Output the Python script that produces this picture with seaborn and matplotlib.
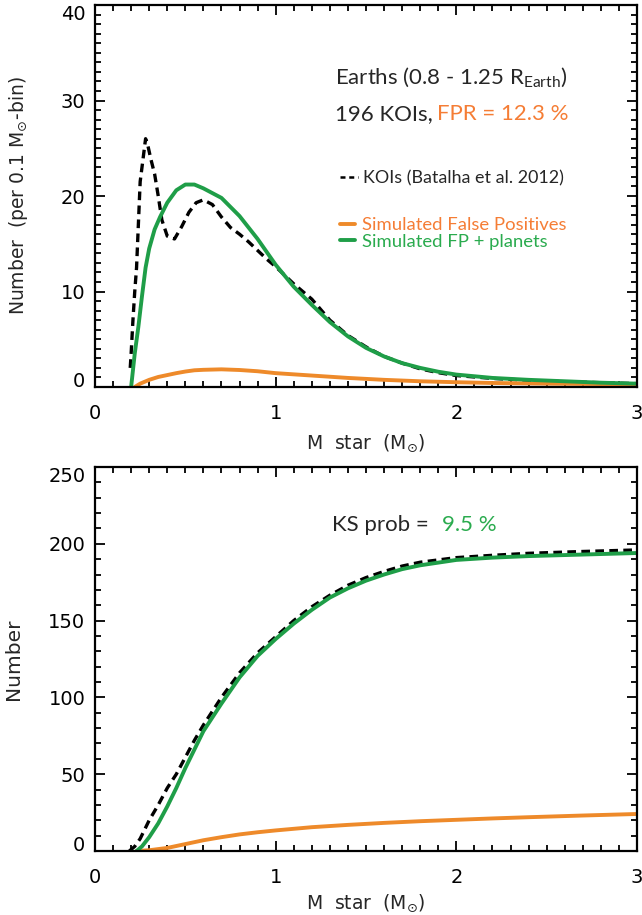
import seaborn as sns
import matplotlib.pyplot as plt
from matplotlib.lines import Line2D
from matplotlib.ticker import MultipleLocator

# top panel: number per 0.1 Msun bin
mass_koi = [0.195, 0.20, 0.21, 0.22, 0.23, 0.24, 0.25, 0.27, 0.28, 0.29, 0.31, 0.33, 0.35,
            0.37, 0.40, 0.44, 0.48, 0.52, 0.56, 0.60, 0.65, 0.70, 0.75, 0.80, 0.85, 0.90,
            0.95, 1.00, 1.10, 1.20, 1.30, 1.40, 1.50, 1.60, 1.70, 1.80, 1.90, 2.00, 2.20,
            2.40, 2.60, 2.80, 3.00]
koi_n = [2.0, 3.5, 7.0, 10.0, 12.5, 17.0, 21.5, 24.5, 26.0, 25.5, 23.8, 22.3, 20.0,
         17.5, 15.8, 15.5, 16.8, 18.3, 19.3, 19.6, 19.1, 17.8, 16.7, 16.0, 15.2, 14.3,
         13.4, 12.6, 10.8, 9.2, 7.0, 5.4, 4.2, 3.2, 2.5, 1.9, 1.5, 1.2, 0.9,
         0.7, 0.55, 0.45, 0.35]

mass_sim = [0.20, 0.22, 0.24, 0.26, 0.28, 0.30, 0.33, 0.36, 0.40, 0.45, 0.50, 0.55, 0.60,
            0.70, 0.80, 0.90, 1.00, 1.10, 1.20, 1.30, 1.40, 1.50, 1.60, 1.70, 1.80, 1.90,
            2.00, 2.20, 2.40, 2.60, 2.80, 3.00]
sim_total_n = [0.0, 3.5, 6.3, 9.5, 12.5, 14.5, 16.5, 17.8, 19.3, 20.6, 21.2, 21.2, 20.8,
               19.8, 17.9, 15.5, 12.8, 10.5, 8.6, 6.8, 5.3, 4.1, 3.2, 2.5, 2.0, 1.6,
               1.3, 0.95, 0.75, 0.6, 0.45, 0.35]

mass_fp = [0.22, 0.25, 0.30, 0.35, 0.40, 0.45, 0.50, 0.55, 0.60, 0.70, 0.80, 0.90, 1.00,
           1.20, 1.40, 1.60, 1.80, 2.00, 2.20, 2.50, 3.00]
fp_n = [0.0, 0.35, 0.75, 1.05, 1.25, 1.45, 1.62, 1.75, 1.80, 1.85, 1.78, 1.65, 1.45,
        1.2, 0.95, 0.75, 0.6, 0.5, 0.42, 0.35, 0.28]

# bottom panel: cumulative number
mass_koi_cum = [0.19, 0.22, 0.25, 0.30, 0.35, 0.40, 0.45, 0.50, 0.55, 0.60, 0.70, 0.80,
                0.90, 1.00, 1.10, 1.20, 1.30, 1.40, 1.50, 1.60, 1.70, 1.80, 2.00, 2.20,
                2.40, 2.70, 3.00]
koi_cum = [0, 3, 8, 20, 30, 41, 50, 61, 72, 82, 100, 116,
           129, 139.5, 150, 159, 166.5, 173, 178, 182, 185.5, 188, 191, 192.5,
           193.8, 195, 196]

mass_sim_cum = [0.23, 0.26, 0.30, 0.35, 0.40, 0.45, 0.50, 0.55, 0.60, 0.70, 0.80, 0.90,
                1.00, 1.10, 1.20, 1.30, 1.40, 1.50, 1.60, 1.70, 1.80, 2.00, 2.20, 2.40,
                2.70, 3.00]
sim_total_cum = [0, 3, 9, 18, 29, 41, 54, 66, 78, 96, 113, 127,
                 138, 148, 157, 165, 171, 176, 180, 183.5, 186, 189.5, 191, 192,
                 193, 194]

mass_fp_cum = [0.23, 0.30, 0.40, 0.50, 0.60, 0.70, 0.80, 0.90, 1.00, 1.20, 1.40, 1.60,
               1.80, 2.00, 2.20, 2.40, 2.70, 3.00]
fp_cum = [0, 0.5, 2, 4.5, 7, 9, 10.8, 12.2, 13.4, 15.5, 17, 18.3,
          19.4, 20.3, 21.2, 22, 23.1, 24.1]

GREEN = "#1f9e48"
ORANGE = "#ee8a2a"
GREEN_TXT = "#2aab4e"
ORANGE_TXT = "#f57d35"
TXT_FONT = "Lato"

sns.set_theme(style="ticks")
plt.rcParams["font.family"] = ["DejaVu Sans"]

fig = plt.figure(figsize=(6.42, 9.15), dpi=100)
ax1 = fig.add_axes([95 / 642, 1 - 387 / 915, 542 / 642, 382 / 915])
ax2 = fig.add_axes([95 / 642, 1 - 851 / 915, 542 / 642, 384 / 915])

dash = (0, (2.6, 1.6))
for ax, (mk, yk), (mf, yf), (ms, ys) in [
    (ax1, (mass_koi, koi_n), (mass_fp, fp_n), (mass_sim, sim_total_n)),
    (ax2, (mass_koi_cum, koi_cum), (mass_fp_cum, fp_cum), (mass_sim_cum, sim_total_cum)),
]:
    sns.lineplot(x=mk, y=yk, ax=ax, color="black", lw=2.4, linestyle=dash)
    sns.lineplot(x=mf, y=yf, ax=ax, color=ORANGE, lw=2.8)
    sns.lineplot(x=ms, y=ys, ax=ax, color=GREEN, lw=2.8)

    ax.set_xlim(0, 3)
    ax.set_xticks([0, 1, 2, 3])
    ax.xaxis.set_minor_locator(MultipleLocator(0.1))
    ax.tick_params(which="both", direction="in", top=True, right=True,
                   labelsize=14, width=1.3, colors="black")
    ax.tick_params(which="major", length=7)
    ax.tick_params(which="minor", length=4)
    ax.tick_params(axis="x", which="major", pad=12)
    ax.tick_params(axis="y", which="major", pad=7)
    for s in ax.spines.values():
        s.set_linewidth(1.6)
        s.set_color("black")

ax1.set_xlabel(r"M  star  (M$_{\odot}$)", fontsize=13.5, labelpad=7)
ax2.set_xlabel(r"M  star  (M$_{\odot}$)", fontsize=13.5, labelpad=4)

ax1.set_ylim(0, 40)
ax1.set_yticks([0, 10, 20, 30, 40])
ax1.yaxis.set_minor_locator(MultipleLocator(1))
ax1.set_ylabel(r"Number  (per 0.1 M$_{\odot}$-bin)", fontsize=13.5, labelpad=22)

ax2.set_ylim(0, 250)
ax2.set_yticks([0, 50, 100, 150, 200, 250])
ax2.yaxis.set_minor_locator(MultipleLocator(10))
ax2.set_ylabel("Number", fontsize=14.5, labelpad=18)

# keep the end labels inside the frame, as in the original
for ax in (ax1, ax2):
    ticks = ax.yaxis.get_major_ticks()
    ticks[0].label1.set_verticalalignment("baseline")
    ticks[-1].label1.set_verticalalignment("top")

# annotations
ax1.text(0.443, 0.8115, r"Earths (0.8 - 1.25 R$\mathregular{_{Earth}}$)", transform=ax1.transAxes,
         fontsize=16, family=TXT_FONT, va="center", ha="left")
ax1.text(0.443, 0.7147, "196 KOIs,", transform=ax1.transAxes,
         fontsize=16, family=TXT_FONT, va="center", ha="left")
ax1.text(0.631, 0.7147, "FPR = 12.3 %", transform=ax1.transAxes, color=ORANGE_TXT,
         fontsize=16, family=TXT_FONT, va="center", ha="left")

leg1 = ax1.legend(handles=[Line2D([], [], color="black", lw=1.8, linestyle=(0, (2, 1.5)))],
                  labels=["KOIs (Batalha et al. 2012)"], loc="center left",
                  bbox_to_anchor=(0.452, 0.547), frameon=False, handlelength=1.0,
                  handletextpad=0.3, borderpad=0, borderaxespad=0,
                  prop={"family": TXT_FONT, "size": 12.9})
ax1.add_artist(leg1)
ax1.legend(handles=[Line2D([], [], color=ORANGE, lw=2.8), Line2D([], [], color=GREEN, lw=2.8)],
           labels=["Simulated False Positives", "Simulated FP + planets"],
           loc="center left", bbox_to_anchor=(0.452, 0.402), frameon=False,
           handlelength=0.8, handletextpad=0.4, labelspacing=0.05,
           borderpad=0, borderaxespad=0,
           labelcolor=[ORANGE_TXT, GREEN_TXT], prop={"family": TXT_FONT, "size": 13.3})

ax2.text(0.437, 0.849, "KS prob =", transform=ax2.transAxes,
         fontsize=16, family=TXT_FONT, va="center", ha="left")
ax2.text(0.6397, 0.849, "9.5 %", transform=ax2.transAxes, color=GREEN_TXT,
         fontsize=16, family=TXT_FONT, va="center", ha="left")

fig.savefig("out.png", dpi=100)
